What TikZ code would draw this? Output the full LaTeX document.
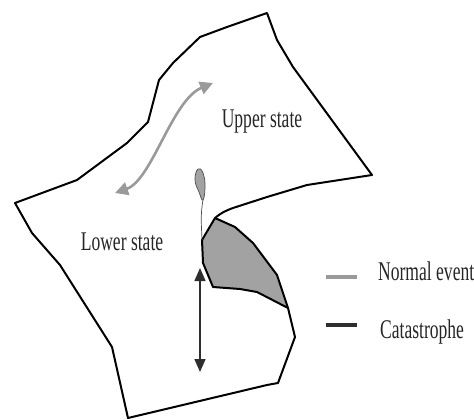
\documentclass[tikz,border=0pt]{standalone}
\usepackage{fontspec}
\usepackage{tikz}
\usetikzlibrary{arrows.meta,positioning}
\newfontfamily\labelfont[FakeStretch=0.65]{Liberation Serif}
\definecolor{foldgray}{HTML}{A2A2A2}
\definecolor{eventgray}{HTML}{9A9A9A}
\definecolor{inkdark}{HTML}{2E2E2E}

\begin{document}
\begin{tikzpicture}[x=1pt, y=-1pt,
  sheet/.style={draw=black, line width=2pt, line join=round},
  foldline/.style={draw=black!70, line width=0.7pt},
  normalarr/.style={{Triangle[length=13pt,width=13pt]}-{Triangle[length=13pt,width=13pt]}, eventgray, line width=2.6pt},
  catarr/.style={{Triangle[length=13pt,width=11pt]}-{Triangle[length=13pt,width=11pt]}, inkdark, line width=1.5pt},
  legline/.style={line width=3.2pt},
  statelabel/.style={font=\labelfont\fontsize{27}{30}\selectfont, text=black!85, inner sep=0pt, anchor=base}
]
  \useasboundingbox (0,0) rectangle (474,420);

  % upper sheet and lower sheet of the surface
  \draw[sheet] (233,208) -- (267,197) -- (307,185) -- (372,175) -- (293,67) -- (277,40)
    -- (267,13) -- (227,27) -- (200,37) -- (173,63) -- (159,80) -- (148,122) -- (127,143)
    -- (77,180) -- (15,203) -- (32,233) -- (60,265) -- (112,347) -- (128,418) -- (267,385)
    -- (278,383) -- (295,337) -- (288,308);
  \draw[sheet] (233,208) to[out=200,in=40] (215,218);

  % fold region
  \filldraw[sheet, fill=foldgray] (215,218) -- (202,240) -- (203,263) -- (213,287)
    -- (240,289) -- (257,292) -- (288,308) -- (277,275) -- (253,243) -- (235,227) -- cycle;

  % cusp of the fold
  \filldraw[foldline, fill=foldgray] plot[smooth cycle, tension=0.8]
    coordinates {(198,169) (203,173) (205,186) (203,200) (199,192) (195,180)};
  \draw[foldline] (203,200) to[out=260,in=92] (202,240);

  \node[statelabel] (upper) at (262,128) {Upper state};
  \node[statelabel] (lower) at (122,250) {Lower state};

  % normal event and catastrophe
  \coordinate (nlow) at (115,193);
  \coordinate (nhigh) at (213,83);
  \draw[normalarr] (nlow) .. controls (152,180) and (172,100) .. (nhigh);

  \coordinate (ctop) at (200,268);
  \coordinate (cbot) at (200,372);
  \draw[catarr] (ctop) -- (cbot);

  % legend
  \coordinate (lg1a) at (326,277);
  \coordinate (lg1b) at (357,277);
  \coordinate (lg2a) at (326,325);
  \coordinate (lg2b) at (357,325);
  \draw[legline, eventgray] (lg1a) -- (lg1b);
  \draw[legline, inkdark] (lg2a) -- (lg2b);
  \node[statelabel, anchor=base west] (normal) at (378,280) {Normal event};
  \node[statelabel, anchor=base west] (catas) at (380,338) {Catastrophe};
\end{tikzpicture}
\end{document}
